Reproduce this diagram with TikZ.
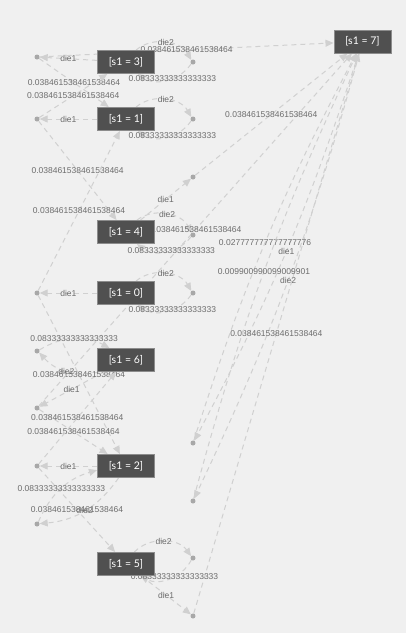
\documentclass[tikz,border=0pt]{standalone}
\usepackage{fontspec}
\setmainfont{Liberation Sans}
\newfontfamily\boxfont{Lato}
\usepackage{xcolor}
\usepackage{tikz}
\usetikzlibrary{arrows.meta}
\definecolor{bgcol}{HTML}{F0F0F0}
\definecolor{boxcol}{HTML}{505050}
\definecolor{boxline}{HTML}{8C8C8C}
\definecolor{edgecol}{HTML}{D0D0D0}
\definecolor{dotcol}{HTML}{A8A8A8}
\definecolor{txtcol}{HTML}{6C6C6C}
\pgfdeclarelayer{canvas}
\pgfdeclarelayer{edges}
\pgfsetlayers{canvas,edges,main}
\tikzstyle{state} = [draw=boxline, fill=boxcol, text=white, line width=1pt, minimum width=57pt, minimum height=23pt, inner sep=0pt, font=\boxfont\fontsize{10.5}{12}\selectfont]
\tikzstyle{act} = [circle, fill=dotcol, inner sep=0pt, minimum size=5pt]
\tikzstyle{trans} = [edgecol, line width=1pt, dash pattern=on 5pt off 4pt, -{Triangle[length=8pt,width=7pt]}]
\tikzstyle{lbl} = [text=txtcol, font=\fontsize{8.5}{10}\selectfont, inner sep=0pt]

\begin{document}
\begin{tikzpicture}[x=1pt, y=-1pt]
    \begin{pgfonlayer}{canvas}
        \fill[bgcol] (0,0) rectangle (406,633);
    \end{pgfonlayer}
    \useasboundingbox (0,0) rectangle (406,633);
    % action points
    \node[act] (s3d1) at (37,57) {};
    \node[act] (s3d2) at (193,62) {};
    \node[act] (s1d1) at (37,119) {};
    \node[act] (s1d2) at (193,119) {};
    \node[act] (s4d1) at (193,177) {};
    \node[act] (s4d2) at (193,235) {};
    \node[act] (s0d1) at (37,293) {};
    \node[act] (s0d2) at (193,293) {};
    \node[act] (s6d2) at (37,351) {};
    \node[act] (s6d1) at (37,408) {};
    \node[act] (s7d1) at (193,443) {};
    \node[act] (s2d1) at (37,466) {};
    \node[act] (s7d2) at (193,501) {};
    \node[act] (s2d2) at (37,524) {};
    \node[act] (s5d2) at (193,558) {};
    \node[act] (s5d1) at (193,616) {};
    % states
    \node[state] (s3) at (126,62) {[s1 = 3]};
    \node[state] (s1) at (126,119) {[s1 = 1]};
    \node[state] (s4) at (126,232) {[s1 = 4]};
    \node[state] (s0) at (126,293) {[s1 = 0]};
    \node[state] (s6) at (126,360) {[s1 = 6]};
    \node[state] (s2) at (126,466) {[s1 = 2]};
    \node[state] (s5) at (126,564) {[s1 = 5]};
    \node[state] (s7) at (362.5,41.5) {[s1 = 7]};

    \begin{pgfonlayer}{edges}
    % choices
    \draw[trans] (s3) -- (s3d1) node[lbl,midway] {die1};
    \draw[trans] (s3) to[bend left=50] node[lbl] {die2} (s3d2);
    \draw[trans] (s1) -- (s1d1) node[lbl,midway] {die1};
    \draw[trans] (s1) to[bend left=50] node[lbl] {die2} (s1d2);
    \draw[trans] (s4) -- (s4d1) node[lbl,midway] {die1};
    \draw[trans] (s4) to[bend left=50] node[lbl] {die2} (s4d2);
    \draw[trans] (s0) -- (s0d1) node[lbl,midway] {die1};
    \draw[trans] (s0) to[bend left=50] node[lbl] {die2} (s0d2);
    \draw[trans] (s6) -- (s6d1) node[lbl,midway] {die1};
    \draw[trans] (s6) to[bend left=30] node[lbl] {die2} (s6d2);
    \draw[trans] (s2) -- (s2d1) node[lbl,midway] {die1};
    \draw[trans] (s2) to[bend left=25] node[lbl] {die2} (s2d2);
    \draw[trans] (s5) -- (s5d1) node[lbl,midway] {die1};
    \draw[trans] (s5) to[bend left=50] node[lbl] {die2} (s5d2);
    \draw[trans] (s7) to[bend left=5] node[lbl] {die1} (s7d1);
    \draw[trans] (s7) to[bend left=5] node[lbl] {die2} (s7d2);

    % probabilities
    \draw[trans] (s3d1) -- (s7) node[lbl,midway] {0.038461538461538464};
    \draw[trans] (s3d1) -- (s1) node[lbl,midway] {0.038461538461538464};
    \draw[trans] (s1d1) -- (s3) node[lbl,midway] {0.038461538461538464};
    \draw[trans] (s1d1) -- (s4) node[lbl,midway] {0.038461538461538464};
    \draw[trans] (s0d1) -- (s1) node[lbl,midway] {0.038461538461538464};
    \draw[trans] (s0d1) -- (s2) node[lbl,midway] {0.038461538461538464};
    \draw[trans] (s6d1) -- (s7) node[lbl,midway] {0.038461538461538464};
    \draw[trans] (s6d1) -- (s2) node[lbl,midway] {0.038461538461538464};
    \draw[trans] (s2d1) -- (s6) node[lbl,midway] {0.038461538461538464};
    \draw[trans] (s2d1) -- (s5) node[lbl,midway] {0.038461538461538464};
    \draw[trans] (s4d1) -- (s7) node[lbl,midway] {0.038461538461538464};
    \draw[trans] (s5d1) -- (s7) node[lbl,midway] {0.038461538461538464};
    \draw[trans] (s3d2) to[bend left=45] node[lbl,pos=0.4] {0.08333333333333333} (s3);
    \draw[trans] (s1d2) to[bend left=45] node[lbl,pos=0.4] {0.08333333333333333} (s1);
    \draw[trans] (s4d2) to[bend left=45] node[lbl,pos=0.4] {0.08333333333333333} (s4);
    \draw[trans] (s0d2) to[bend left=45] node[lbl,pos=0.4] {0.08333333333333333} (s0);
    \draw[trans] (s5d2) to[bend left=45] node[lbl,pos=0.4] {0.08333333333333333} (s5);
    \draw[trans] (s6d2) to[bend left=30] node[lbl] {0.08333333333333333} (s6);
    \draw[trans] (s2d2) to[bend left=25] node[lbl] {0.08333333333333333} (s2);
    \draw[trans] (s7d1) to[bend left=5] node[lbl] {0.027777777777777776} (s7);
    \draw[trans] (s7d2) to[bend left=5] node[lbl] {0.009900990099009901} (s7);
    \end{pgfonlayer}
\end{tikzpicture}
\end{document}
